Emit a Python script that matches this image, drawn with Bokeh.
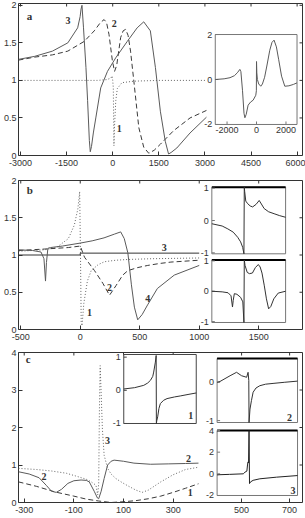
import numpy as np
from bokeh.plotting import figure
from bokeh.models import Range1d, FixedTicker, NumeralTickFormatter
from bokeh.layouts import column
from bokeh.core.properties import value
from bokeh.embed import file_html
from bokeh.resources import INLINE

# ---------------- data: panel a ----------------
A_X1 = [-3065, -1500, -500, -200, -60, -20, 0, 20, 30, 40, 60, 100, 150, 300, 700, 1500, 3050]
A_Y1 = [1.0, 1.0, 1.0, 1.01, 1.03, 1.06, 1.0, 0.9, 0.5, 0.13, 0.4, 0.73, 0.89, 0.97, 0.99, 1.0, 1.0]
A_X2 = [-3065, -2540, -1960, -1460, -925, -600, -400, -280, -200, -120, -10, 60, 130, 258, 340, 420,
        500, 580, 688, 850, 1010, 1172, 1350, 1550, 1980, 2516, 3050]
A_Y2 = [1.27, 1.31, 1.34, 1.39, 1.52, 1.66, 1.77, 1.81, 1.77, 1.61, 1.26, 1.12, 1.2, 1.57, 1.66, 1.68,
        1.6, 1.39, 0.99, 0.37, 0.11, 0.03, 0.07, 0.15, 0.33, 0.50, 0.60]
A_X3 = [-3065, -2540, -1960, -1460, -1140, -1060, -1030, -1000, -950, -870, -817, -760, -730, -690,
        -630, -550, -390, -170, 97, 475, 795, 1010, 1225, 1390, 1550, 1710, 1817, 1900, 2087, 2516, 3050]
A_Y3 = [1.28, 1.32, 1.39, 1.50, 1.70, 1.85, 1.95, 2.0, 1.7, 1.17, 0.73, 0.2, 0.05, 0.12,
        0.3, 0.5, 0.9, 1.12, 1.30, 1.52, 1.70, 1.78, 1.66, 1.17, 0.59, 0.19, 0.02, 0.04, 0.10, 0.30, 0.51]
A_XTICKS = [-3000, -1500, 0, 1500, 3000, 4500, 6000]
A_YTICKS = [0, 0.5, 1, 1.5, 2]
AI_X = [-2800, -2200, -1800, -1500, -1300, -1130, -1060, -950, -850, -790, -700, -570, -400, -230, -50,
        -10, 0, 20, 60, 150, 290, 400, 550, 700, 900, 1050, 1190, 1350, 1500, 1700, 1920, 2200, 2500, 2750]
AI_Y = [0.0, 0.03, 0.08, 0.17, 0.3, 0.45, 0.35, -0.5, -1.5, -1.7, -1.55, -1.14, -1.0, -0.92, -0.7,
        -0.5, 0.8, 0.3, 0.0, -0.2, -0.3, -0.2, 0.1, 0.6, 1.3, 1.65, 1.75, 1.45, 0.9, 0.15, -0.3, -0.28, -0.22, -0.15]
AI_XTICKS = [-2000, 0, 2000]
AI_YTICKS = [-2, 0, 2]

# ---------------- data: panel b ----------------
B_X1 = [-519, -300, -200, -100, -50, -20, -5, 2, 8, 15, 30, 60, 92, 150, 204, 300, 400, 600, 1000]
B_Y1 = [1.05, 1.07, 1.1, 1.22, 1.4, 1.62, 1.85, 1.0, 0.1, 0.05, 0.35, 0.65, 0.79, 0.87, 0.91, 0.93, 0.94, 0.95, 0.96]
B_X2 = [-519, -300, -100, 0, 36, 120, 190, 246, 301, 357, 400, 480, 567, 662, 762, 1000]
B_Y2 = [1.06, 1.08, 1.10, 1.12, 0.97, 0.79, 0.62, 0.46, 0.59, 0.73, 0.79, 0.83, 0.86, 0.885, 0.905, 0.93]
B_X3 = [-519, 0, 0, 1000]
B_Y3 = [1.0, 1.0, 1.025, 1.025]
B_X4 = [-519, -400, -330, -305, -292, -284, -272, -250, -150, 0, 100, 200, 287, 340, 370, 400, 430,
        455, 483, 520, 566, 648, 790, 1000]
B_Y4 = [1.07, 1.06, 1.04, 0.95, 0.65, 0.9, 1.09, 1.10, 1.12, 1.16, 1.19, 1.23, 1.28, 1.31, 1.22, 1.03, 0.6,
        0.3, 0.13, 0.2, 0.33, 0.55, 0.73, 0.86]
B_XTICKS = [-500, 0, 500, 1000, 1500]
B_YTICKS = [0, 0.5, 1, 1.5, 2]
BU_X = [-440, -300, -223, -150, -89, -50, -22, -5, 0, 5, 20, 46, 80, 113, 160, 202, 240, 269, 330, 404, 480, 560]
BU_Y = [-0.10, -0.17, -0.26, -0.36, -0.52, -0.66, -0.83, -1.03, 1.03, 0.9, 0.6, 0.52, 0.45, 0.42, 0.5,
        0.62, 0.48, 0.37, 0.27, 0.21, 0.15, 0.1]
BL_X = [-440, -300, -220, -180, -160, -150, -135, -100, -50, -20, -5, 0, 10, 40, 70, 110, 150, 190, 215,
        240, 270, 300, 330, 360, 400, 460, 560]
BL_Y = [0.0, -0.02, -0.05, -0.15, -0.52, -0.3, -0.08, -0.1, -0.2, -0.35, -1.03, 1.03, 0.85, 0.62, 0.58,
        0.6, 0.78, 0.88, 0.8, 0.6, 0.2, -0.25, -0.58, -0.5, -0.25, -0.06, 0.0]
BI_YTICKS = [-1, 0, 1]

# ---------------- data: panel c ----------------
C_X1 = [-323, -250, -175, -100, -50, 0, 50, 100, 150, 200, 250, 300, 350, 402]
C_Y1 = [0.55, 0.43, 0.28, 0.17, 0.09, 0.04, 0.0, 0.02, 0.05, 0.1, 0.17, 0.27, 0.38, 0.5]
C_X2 = [-323, -280, -240, -210, -190, -171, -150, -124, -100, -71, -50, -38, -18, -5, 0, 10, 22, 36,
        50, 62, 100, 142, 209, 280, 350, 402]
C_Y2 = [0.82, 0.76, 0.66, 0.45, 0.3, 0.27, 0.35, 0.51, 0.58, 0.6, 0.59, 0.55, 0.3, 0.12, 0.1, 0.3, 0.64, 1.0,
        1.1, 1.13, 1.1, 1.05, 1.02, 1.03, 1.04, 1.05]
C_X3 = [-323, -250, -190, -130, -84, -50, -30, -11, -4, 0, 3, 6, 10, 15, 22, 36, 50, 69, 90, 116, 150,
        175, 200, 250, 300, 350, 402]
C_Y3 = [0.91, 0.88, 0.84, 0.78, 0.69, 0.62, 0.55, 0.46, 0.2, 0.5, 2.5, 3.65, 2.9, 1.95, 1.26, 0.91, 0.76,
        0.64, 0.55, 0.45, 0.33, 0.27, 0.33, 0.55, 0.74, 0.88, 0.94]
C_XTICKS = [-300, -100, 100, 300]
C_YTICKS = [0, 1, 2, 3, 4]
CI1_X = [-450, -300, -174, -120, -82, -50, -37, -14, -3, 0, 5, 18, 35, 55, 100, 147, 250, 329, 450, 550]
CI1_Y = [0.04, 0.08, 0.15, 0.22, 0.3, 0.42, 0.55, 0.85, 1.05, -1.0, -0.92, -0.8, -0.55, -0.4, -0.3,
         -0.25, -0.2, -0.17, -0.12, -0.08]
CI2_X = [398, 410, 452, 479, 500, 521, 527, 530, 531, 535, 541, 548, 560, 576, 600, 631, 680, 733]
CI2_Y = [0.0, 0.02, 0.17, 0.26, 0.17, 0.13, 0.26, 0.05, -1.05, -0.7, -0.48, -0.26, -0.15, -0.09, -0.05,
         -0.03, 0.0, 0.03]
CI3_X = [398, 410, 450, 507, 514, 522, 525, 527, 529, 531, 533, 537, 548, 576, 645, 733]
CI3_Y = [-0.1, -0.08, -0.05, 0.0, 0.15, 0.25, 0.9, 1.1, 1.0, 4.0, -0.9, -0.75, -0.6, -0.46, -0.31, -0.16]
CI23_XTICKS = [500, 700]

FONT = "Liberation Sans"
SERIF = "Liberation Serif"
INK = "#333333"
SOLID = "#5a5a5a"
DASH = "#3a3a3a"
DOT = "#666666"


def panel(height, xr, yr, xticks, yticks, borders, overrides=None):
    l, r, t, b = borders
    p = figure(width=305, height=height, x_range=Range1d(*xr), y_range=Range1d(*yr),
               output_backend="svg", toolbar_location=None,
               min_border_left=l, min_border_right=r, min_border_top=t, min_border_bottom=b,
               background_fill_color="white", border_fill_color="white")
    p.grid.visible = False
    p.outline_line_color = INK
    p.outline_line_width = 1
    for ax, ticks, fmt in ((p.xaxis[0], xticks, "0"), (p.yaxis[0], yticks, "0.[0]")):
        ax.ticker = FixedTicker(ticks=ticks)
        ax.formatter = NumeralTickFormatter(format=fmt)
        ax.major_tick_in = 4
        ax.major_tick_out = 0
        ax.minor_tick_line_color = None
        ax.axis_line_color = None
        ax.major_tick_line_color = INK
        ax.major_label_text_font = FONT
        ax.major_label_text_font_size = "9px"
        ax.major_label_text_color = INK
    if overrides:
        p.xaxis[0].major_label_overrides = overrides
    p.xaxis[0].major_label_standoff = 4
    p.yaxis[0].major_label_standoff = 2
    # inward ticks on the top and right edges of the frame
    p.ray(x=xticks, y=[yr[1]] * len(xticks), angle=-np.pi / 2, length=3, length_units="screen",
          line_color=INK)
    p.ray(x=[xr[1]] * len(yticks), y=yticks, angle=np.pi, length=3, length_units="screen",
          line_color=INK)
    return p


def curve_labels(p, xs, ys, texts, size="10px"):
    p.text(x=xs, y=ys, text=texts, text_font=value(SERIF), text_font_style="bold",
           text_font_size=size, text_align="center", text_baseline="middle", text_color=INK)


def inset(p, xsrc, ysrc, xtgt, ytgt, yticks, frame="#777777", top_bold=False):
    sub = p.subplot(x_source=Range1d(*xsrc), y_source=Range1d(*ysrc),
                    x_target=Range1d(*xtgt), y_target=Range1d(*ytgt))
    sub.quad(left=[xsrc[0]], right=[xsrc[1]], bottom=[ysrc[0]], top=[ysrc[1]],
             fill_color="white", line_color=frame, line_width=1)
    if top_bold:
        sub.segment(x0=[xsrc[0]], x1=[xsrc[1]], y0=[ysrc[1]], y1=[ysrc[1]], line_color="black", line_width=2)
    n = len(yticks)
    sub.ray(x=[xsrc[0]] * n, y=yticks, length=3, length_units="screen", angle=0, line_color=frame)
    sub.text(x=[xsrc[0]] * n, y=yticks, text=[str(v) for v in yticks], x_offset=-3,
             text_align="right", text_baseline="middle", text_font=value(FONT),
             text_font_size="9px", text_color=INK)
    return sub


# ---------------- panel a ----------------
A_XR = (-3065, 6175)
A_YR = (0, 2.024)
pa = panel(172, A_XR, A_YR, A_XTICKS, A_YTICKS, (17, 2, 3, 17))
pa.line(A_X1, A_Y1, line_color=DOT, line_dash="1 2", line_width=1)
pa.line(A_X2, A_Y2, line_color=DASH, line_dash="5 3", line_width=1)
pa.line(A_X3, A_Y3, line_color=SOLID, line_width=1)
curve_labels(pa, [-2709], [1.864], ["a"], size="11px")
curve_labels(pa, [-1458, 48, 210], [1.798, 1.754, 0.355], ["3", "2", "1"])
ia = inset(pa, (-2800, 2750), (-2, 2), (3337, 5997), (0.413, 1.611), AI_YTICKS)
ia.line(AI_X, AI_Y, line_color=SOLID, line_width=1)
ia.ray(x=AI_XTICKS, y=[-2] * 3, length=3, length_units="screen", angle=np.pi / 2, line_color="#777777")
ia.text(x=AI_XTICKS, y=[-2] * 3, text=[str(v) for v in AI_XTICKS], y_offset=3, text_align="center",
        text_baseline="top", text_font=value(FONT), text_font_size="9px", text_color=INK)

# ---------------- panel b ----------------
pb = panel(173, (-519, 1868), (0, 2), B_XTICKS, B_YTICKS, (17, 3, 8, 16))
pb.line(B_X1, B_Y1, line_color=DOT, line_dash="1 2", line_width=1)
pb.line(B_X2, B_Y2, line_color=DASH, line_dash="5 3", line_width=1)
pb.line(B_X3, B_Y3, line_color="#333333", line_width=1)
pb.line(B_X4, B_Y4, line_color=SOLID, line_width=1)
curve_labels(pb, [-424], [1.866], ["b"], size="11px")
curve_labels(pb, [706, 246, 567, 78], [1.105, 0.568, 0.412, 0.232], ["3", "2", "4", "1"])
ibu = inset(pb, (-440, 560), (-1.03, 1.03), (1106, 1726), (1.016, 1.910), BI_YTICKS, top_bold=True)
ibu.line(BU_X, BU_Y, line_color="#333333", line_width=1)
ibl = inset(pb, (-440, 560), (-1.03, 1.03), (1106, 1726), (0.094, 0.933), BI_YTICKS, top_bold=True)
ibl.line(BL_X, BL_Y, line_color="#333333", line_width=1)

# ---------------- panel c ----------------
C_XR = (-323, 821)
I23_SRC = (398, 733)
I23_TGT = (477, 801)
k = (I23_SRC[1] - I23_SRC[0]) / (I23_TGT[1] - I23_TGT[0])
# the 500 / 700 ticks belong to the right-hand inset column: place them on the shared bottom axis
c_inset_ticks = [round(I23_TGT[0] + (v - I23_SRC[0]) / k, 2) for v in CI23_XTICKS]
c_ticks = C_XTICKS + c_inset_ticks
c_over = {t: str(v) for t, v in zip(c_inset_ticks, CI23_XTICKS)}
pc = panel(173, C_XR, (0, 4), c_ticks, C_YTICKS, (17, 2, 7, 16), overrides=c_over)
pc.line(C_X1, C_Y1, line_color=DASH, line_dash="5 3", line_width=1)
pc.line(C_X2, C_Y2, line_color=SOLID, line_width=1)
pc.line(C_X3, C_Y3, line_color=DOT, line_dash="1 2", line_width=1)
curve_labels(pc, [-284], [3.84], ["c"], size="11px")
curve_labels(pc, [36, -220, 362, 369], [1.65, 0.69, 1.17, 0.27], ["3", "2", "2", "1"])
ic1 = inset(pc, (-450, 550), (-1, 1.08), (101, 393), (2.107, 3.947), [-1, 0, 1], frame="#444444")
ic1.line(CI1_X, CI1_Y, line_color="#333333", line_width=1)
curve_labels(ic1, [475], [-0.75], ["1"])
ic2 = inset(pc, I23_SRC, (-1.05, 0.62), I23_TGT, (2.133, 3.84), [-1, 0], top_bold=True)
ic2.line(CI2_X, CI2_Y, line_color="#333333", line_width=1)
curve_labels(ic2, [700], [-0.91], ["2"])
ic3 = inset(pc, I23_SRC, (-2, 4), I23_TGT, (0.187, 1.92), [-2, 0, 2, 4], top_bold=True)
ic3.line(CI3_X, CI3_Y, line_color="#222222", line_width=1)
curve_labels(ic3, [714], [-1.55], ["3"])

layout = column(pa, pb, pc, spacing=0)
open("out.html", "w").write(file_html(layout, INLINE))
